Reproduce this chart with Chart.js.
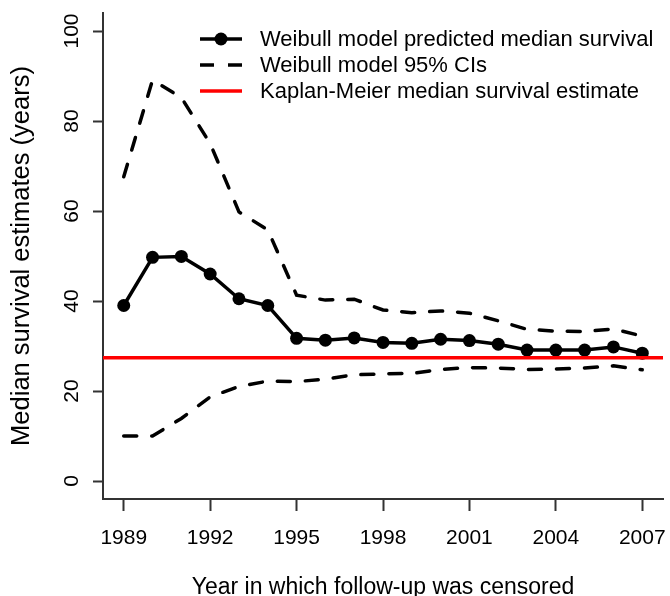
<!DOCTYPE html>
<html>
<head>
<meta charset="utf-8">
<title>Median survival estimates</title>
<script src="https://cdn.jsdelivr.net/npm/chart.js@4.4.0/dist/chart.umd.min.js"></script>
<style>
  body { margin: 0; background: #fff; }
</style>
</head>
<body>
<canvas id="survChart" width="670" height="596"></canvas>
<script>
var years = [1989, 1990, 1991, 1992, 1993, 1994, 1995, 1996, 1997, 1998,
             1999, 2000, 2001, 2002, 2003, 2004, 2005, 2006, 2007];
var medianSurv = [39.0, 49.7, 49.9, 46.0, 40.5, 39.0, 31.7, 31.3, 31.8, 30.8,
                  30.6, 31.5, 31.2, 30.4, 29.1, 29.1, 29.1, 29.8, 28.4];
var upperCI = [67.6, 89.1, 85.2, 75.0, 59.8, 55.8, 41.3, 40.2, 40.4, 38.0,
               37.4, 37.8, 37.3, 35.6, 33.7, 33.3, 33.2, 33.8, 32.2];
var lowerCI = [10.0, 10.0, 13.9, 18.7, 21.0, 22.2, 22.1, 22.6, 23.6, 23.8,
               23.9, 24.8, 25.2, 25.1, 24.8, 24.9, 25.1, 25.6, 24.7];
var kmMedian = 27.4;
var xTicks = [1989, 1992, 1995, 1998, 2001, 2004, 2007];
var yTicks = [0, 20, 40, 60, 80, 100];
var xMin = 1988.28, xMax = 2007.72;

function toPoints(vals) {
  return years.map(function (yr, i) { return { x: yr, y: vals[i] }; });
}

Chart.defaults.font.family = "'Liberation Sans', Arial, sans-serif";
Chart.defaults.color = '#000';

// y tick labels are drawn rotated like the R default (las = 0)
var yLabelPlugin = {
  id: 'yLabels',
  afterDraw: function (chart) {
    var ctx = chart.ctx;
    var ys = chart.scales.y;
    ctx.save();
    ctx.fillStyle = '#000';
    ctx.font = "21px 'Liberation Sans', Arial, sans-serif";
    ctx.textAlign = 'center';
    ctx.textBaseline = 'middle';
    yTicks.forEach(function (v) {
      ctx.save();
      ctx.translate(72, ys.getPixelForValue(v));
      ctx.rotate(-Math.PI / 2);
      ctx.fillText(String(v), 0, 0);
      ctx.restore();
    });
    ctx.restore();
  }
};

var legendPlugin = {
  id: 'insetLegend',
  afterDraw: function (chart) {
    var ctx = chart.ctx;
    var ds = chart.data.datasets;
    var rows = [ds[1], ds[2], ds[0]];
    ctx.save();
    ctx.font = "22px 'Liberation Sans', Arial, sans-serif";
    ctx.textBaseline = 'middle';
    ctx.textAlign = 'left';
    rows.forEach(function (d, i) {
      var y = 39 + i * 26;
      ctx.strokeStyle = d.borderColor;
      ctx.lineWidth = d.borderWidth;
      ctx.lineCap = 'butt';
      ctx.setLineDash(d.legendDash || []);
      ctx.beginPath();
      ctx.moveTo(200, y);
      ctx.lineTo(242, y);
      ctx.stroke();
      ctx.setLineDash([]);
      if (d.pointRadius > 0) {
        ctx.fillStyle = d.pointBackgroundColor;
        ctx.beginPath();
        ctx.arc(221, y, d.pointRadius, 0, Math.PI * 2);
        ctx.fill();
      }
      ctx.fillStyle = '#000';
      ctx.fillText(d.label, 260, y + 1);
    });
    ctx.restore();
  }
};

var ctx = document.getElementById('survChart').getContext('2d');
var chart = new Chart(ctx, {
  type: 'line',
  data: {
    datasets: [{
      label: 'Kaplan-Meier median survival estimate',
      data: [{ x: xMin, y: kmMedian }, { x: xMax, y: kmMedian }],
      borderColor: '#ff0000',
      borderWidth: 3.5,
      pointRadius: 0,
      order: 0
    }, {
      label: 'Weibull model predicted median survival',
      data: toPoints(medianSurv),
      borderColor: '#000',
      borderWidth: 3.5,
      pointRadius: 6.5,
      pointBorderWidth: 0,
      pointBackgroundColor: '#000',
      order: 1
    }, {
      label: 'Weibull model 95% CIs',
      data: toPoints(upperCI),
      borderColor: '#000',
      borderWidth: 3.5,
      borderDash: [13, 15],
      borderCapStyle: 'round',
      legendDash: [14, 14],
      pointRadius: 0,
      order: 2
    }, {
      label: 'Weibull model 95% CIs (lower)',
      data: toPoints(lowerCI),
      borderColor: '#000',
      borderWidth: 3.5,
      borderDash: [13, 15],
      borderCapStyle: 'round',
      pointRadius: 0,
      order: 3
    }]
  },
  options: {
    responsive: false,
    animation: false,
    layout: { padding: { top: 13, right: 7, left: 0, bottom: 0 } },
    elements: { line: { tension: 0 } },
    plugins: {
      legend: { display: false },
      tooltip: { enabled: false }
    },
    scales: {
      x: {
        type: 'linear',
        min: xMin,
        max: xMax,
        afterBuildTicks: function (s) { s.ticks = xTicks.map(function (v) { return { value: v }; }); },
        afterFit: function (s) { s.height = 97; s.paddingLeft = 0; s.paddingRight = 0; },
        grid: { drawOnChartArea: false, drawTicks: true, tickLength: 12, tickWidth: 2, tickColor: '#333' },
        border: { display: true, color: '#333', width: 2 },
        ticks: {
          color: '#000',
          font: { size: 21 },
          padding: 15,
          maxRotation: 0,
          autoSkip: false,
          callback: function (v) { return String(v); }
        },
        title: {
          display: true,
          text: 'Year in which follow-up was censored',
          color: '#000',
          font: { size: 23, lineHeight: 0.7 },
          padding: 0
        }
      },
      y: {
        type: 'linear',
        min: -4,
        max: 104,
        afterBuildTicks: function (s) { s.ticks = yTicks.map(function (v) { return { value: v }; }); },
        afterFit: function (s) { s.width = 103; s.paddingTop = 0; s.paddingBottom = 0; },
        grid: { drawOnChartArea: false, drawTicks: true, tickLength: 10, tickWidth: 2, tickColor: '#333' },
        border: { display: true, color: '#333', width: 2 },
        ticks: { display: false },
        title: {
          display: true,
          text: 'Median survival estimates (years)',
          color: '#000',
          font: { size: 25.5 },
          padding: { top: 7, bottom: 0 }
        }
      }
    }
  },
  plugins: [yLabelPlugin, legendPlugin]
});
</script>
</body>
</html>
